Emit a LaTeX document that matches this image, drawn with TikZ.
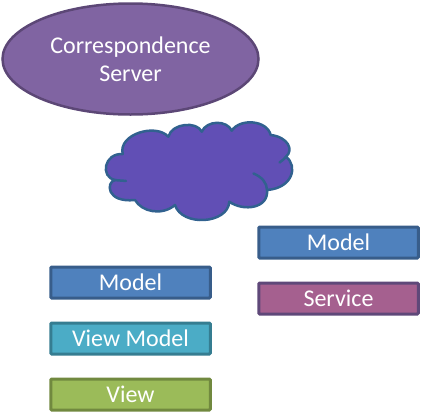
\documentclass[tikz,border=0pt]{standalone}
\usepackage{fontspec}
\setmainfont{Carlito}
\usetikzlibrary{shapes.geometric,positioning}
\definecolor{figServer}{HTML}{8064A2}
\definecolor{figServerLine}{HTML}{5C4776}
\definecolor{figCloud}{HTML}{614FB5}
\definecolor{figCloudLine}{HTML}{31618F}
\definecolor{figModel}{HTML}{4F81BD}
\definecolor{figModelLine}{HTML}{385D8A}
\definecolor{figService}{HTML}{A5608F}
\definecolor{figServiceLine}{HTML}{5F4879}
\definecolor{figViewModel}{HTML}{4BACC6}
\definecolor{figViewModelLine}{HTML}{357D91}
\definecolor{figView}{HTML}{9BBB59}
\definecolor{figViewLine}{HTML}{71893F}
\begin{document}
\begin{tikzpicture}[
  x=1pt,y=-1pt,
  font=\fontsize{24}{28}\selectfont,
  server/.style={ellipse,draw=figServerLine,line width=2.5pt,fill=figServer,text=white,
                 minimum width=256pt,minimum height=111pt,inner sep=0pt,align=center},
  layer/.style={draw=#1Line,fill=#1,line width=3pt,rounded corners=1pt,text=white,
                minimum width=159.5pt,minimum height=31pt,inner sep=0pt},
  cloudline/.style={draw=figCloudLine,line width=2.5pt,line cap=round,line join=round}
]
\useasboundingbox (0,0) rectangle (421,413);
\node[server] (server) at (130.5,59) {Correspondence\\Server};
% cloud
\path[cloudline,fill=figCloud]
  (122.7,154) .. controls (118,134) and (156,123) .. (168.3,136.7)
  .. controls (172,123) and (197,121) .. (201.7,131.7)
  .. controls (207,120) and (227,120) .. (231.7,130.7)
  .. controls (240,118) and (267,120) .. (270.7,135)
  .. controls (288,137) and (294,150) .. (286,156.7)
  .. controls (298,166) and (293,188) .. (267,190)
  .. controls (269,208) and (244,212) .. (229.3,201.7)
  .. controls (228,224) and (182,227) .. (175,205)
  .. controls (162,216) and (142,212) .. (135,200)
  .. controls (106,203) and (106,182) .. (115,180)
  .. controls (100,177) and (104,153) .. (122.7,154) -- cycle;
\draw[cloudline] (253.5,173.5) .. controls (262,177) and (267,183) .. (267,190);
\draw[cloudline] (115,180) .. controls (118,180.5) and (122,180.5) .. (126,181);
\draw[cloudline] (286,156.7) .. controls (284,159) and (282,161) .. (279.5,162.5);
\node[layer=figModel] (model) at (130.5,282.5) {Model};
\node[layer=figViewModel] (viewmodel) at (130.5,338.5) {View Model};
\node[layer=figView] (view) at (130.5,394.5) {View};
\node[layer=figModel] (remotemodel) at (338.5,242.5) {Model};
\node[layer=figService] (service) at (338.5,298.5) {Service};
\end{tikzpicture}
\end{document}
